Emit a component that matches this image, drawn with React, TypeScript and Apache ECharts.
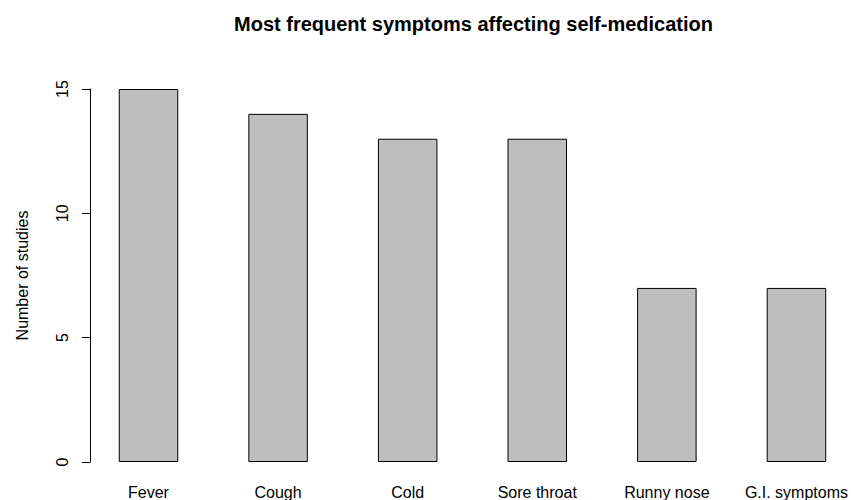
import React, { useEffect, useRef } from "react";
import * as echarts from "echarts";

const categories = ["Fever", "Cough", "Cold", "Sore throat", "Runny nose", "G.I. symptoms"];
const studyCounts = [15, 14, 13, 13, 7, 7];
const yTicks = [0, 5, 10, 15];

const FONT = "'Liberation Sans', Arial, sans-serif";

export default function App() {
  const ref = useRef<HTMLDivElement>(null);
  useEffect(() => {
    document.body.style.margin = "0";
    const chart = echarts.init(ref.current!, null, { renderer: "svg" });
    chart.setOption({
      animation: false,
      backgroundColor: "#ffffff",
      title: {
        text: "Most frequent symptoms affecting self-medication",
        left: 473.5,
        top: 14,
        padding: 0,
        textAlign: "center",
        textStyle: { fontFamily: FONT, fontSize: 20, fontWeight: "bold", color: "#000" },
      },
      grid: { left: 148.5, width: 650, top: 89, height: 373, containLabel: false },
      xAxis: {
        type: "category",
        data: categories,
        boundaryGap: false,
        axisLine: { show: false },
        axisTick: { show: false },
        axisLabel: { margin: 22, fontFamily: FONT, fontSize: 16, color: "#000", interval: 0 },
      },
      yAxis: {
        type: "value",
        min: yTicks[0],
        max: yTicks[yTicks.length - 1],
        interval: 5,
        offset: 58.5,
        name: "Number of studies",
        nameLocation: "middle",
        nameGap: 60,
        nameTextStyle: { fontFamily: FONT, fontSize: 16, color: "#000" },
        axisLine: { show: true, lineStyle: { color: "#000", width: 1 } },
        axisTick: { show: true, inside: false, length: 8, lineStyle: { color: "#000", width: 1 } },
        axisLabel: { rotate: 90, margin: 20, fontFamily: FONT, fontSize: 16, color: "#000" },
        splitLine: { show: false },
      },
      series: [
        {
          type: "bar",
          data: studyCounts,
          barWidth: 59.5,
          itemStyle: { color: "#bebebe", borderColor: "#000", borderWidth: 1 },
        },
      ],
    });
    return () => chart.dispose();
  }, []);
  return (
    <div
      ref={ref}
      style={{ position: "absolute", left: 0, top: 0, width: 851, height: 500 }}
    />
  );
}
